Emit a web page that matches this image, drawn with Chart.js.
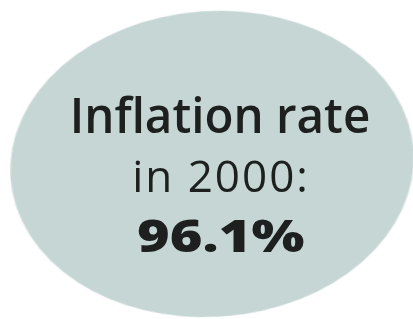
<!DOCTYPE html>
<html>
<head>
<meta charset="utf-8">
<script src="https://cdn.jsdelivr.net/npm/chart.js"></script>
<style>
  html, body { margin: 0; padding: 0; background: #fff; }
  #stage { position: relative; width: 413px; height: 319px; overflow: hidden; }
  #pieBox {
    position: absolute; left: 59px; top: 11px; width: 306px; height: 306px;
    transform: rotate(-4deg) scaleX(1.32); transform-origin: center;
  }
  .txt {
    position: absolute; left: 0; width: 440px; text-align: center;
    font-family: "Open Sans", sans-serif; color: #1d201f; line-height: 1; white-space: nowrap;
  }
  #l1 { top: 90px; font-size: 49px; font-weight: 600; transform: scaleX(0.97); }
  #l2 { top: 153px; font-size: 44px; font-weight: 500; letter-spacing: 2px; padding-left: 2px; box-sizing: border-box; }
  #l3 { top: 213px; font-size: 44px; font-weight: 800; transform: scaleX(1.27); transform-origin: 217px 0; }
</style>
</head>
<body>
<div id="stage">
  <div id="pieBox"><canvas id="chart1"></canvas></div>
  <div class="txt" id="l1"></div>
  <div class="txt" id="l2"></div>
  <div class="txt" id="l3"></div>
</div>
<script>
var labels = ["Inflation rate in 2000"];
var values = [96.1];
var lineOne = "Inflation rate";
var lineTwo = "in 2000:";

document.getElementById('l1').textContent = lineOne;
document.getElementById('l2').textContent = lineTwo;
document.getElementById('l3').textContent = values[0] + "%";

var canvas = document.getElementById('chart1').getContext('2d');

new Chart(canvas, {
    type: 'pie',
    data: {
        labels: labels,
        datasets: [{
            data: values,
            backgroundColor: "#c5d6d5",
            borderWidth: 0
        }]
    },
    options: {
        responsive: true,
        maintainAspectRatio: false,
        animation: false,
        events: [],
        layout: { padding: 0 },
        plugins: {
            legend: { display: false },
            tooltip: { enabled: false }
        }
    }
});
</script>
</body>
</html>
